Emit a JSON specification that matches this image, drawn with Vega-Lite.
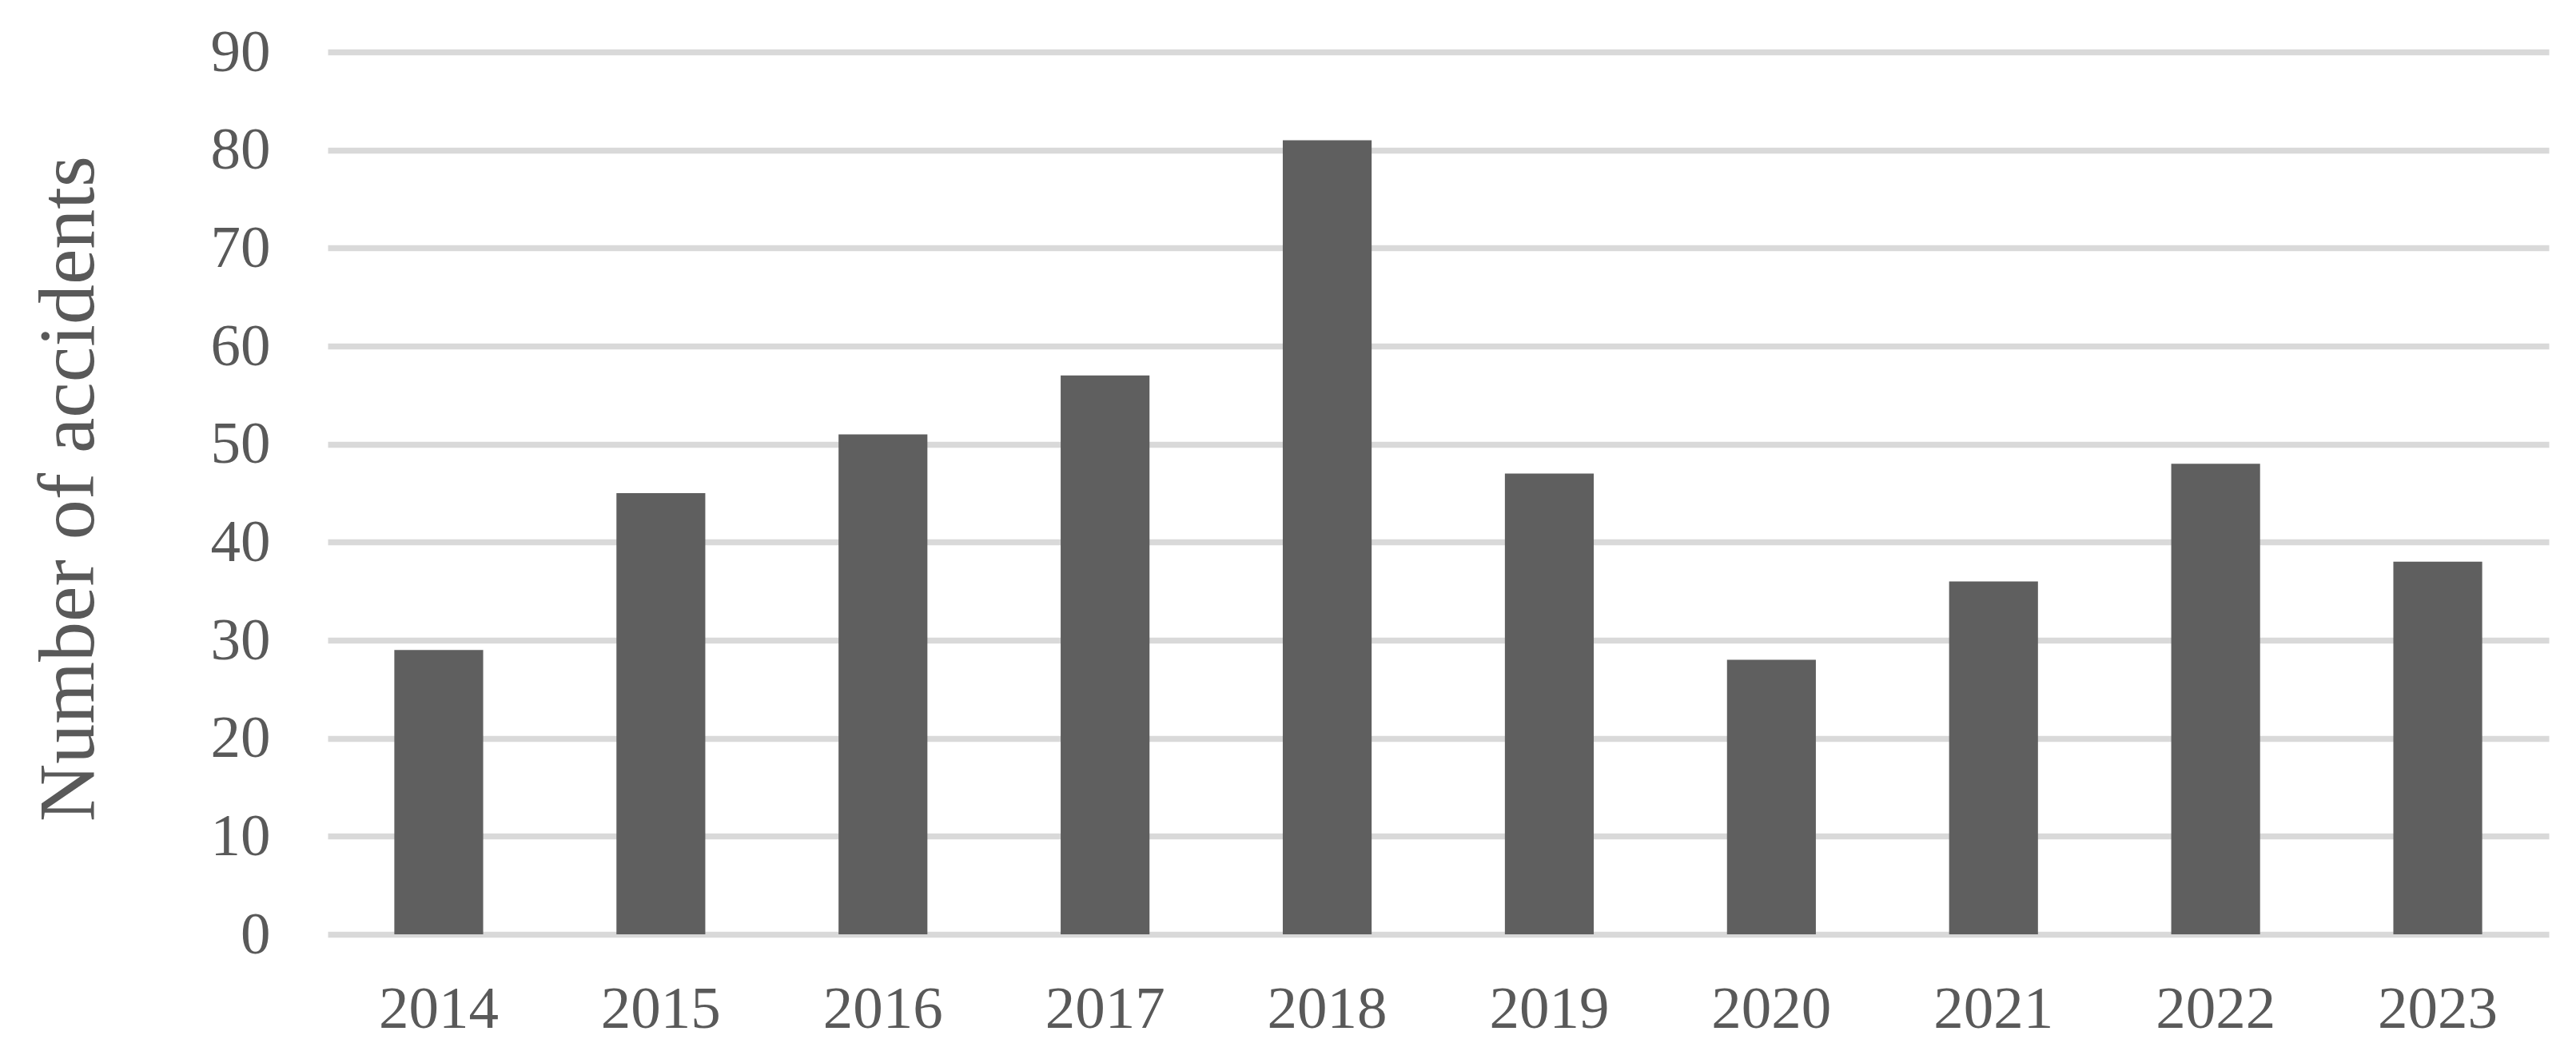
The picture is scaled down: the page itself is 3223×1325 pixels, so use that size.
{
  "$schema": "https://vega.github.io/schema/vega-lite/v6.json",
  "width": 2779,
  "height": 1104,
  "autosize": {"type": "none"},
  "padding": {"left": 410, "top": 65, "right": 34, "bottom": 156},
  "background": "white",
  "config": {"view": {"stroke": null}},
  "data": {"values": [
    {"year": "2014", "accidents": 29},
    {"year": "2015", "accidents": 45},
    {"year": "2016", "accidents": 51},
    {"year": "2017", "accidents": 57},
    {"year": "2018", "accidents": 81},
    {"year": "2019", "accidents": 47},
    {"year": "2020", "accidents": 28},
    {"year": "2021", "accidents": 36},
    {"year": "2022", "accidents": 48},
    {"year": "2023", "accidents": 38}
  ]},
  "mark": {"type": "bar", "color": "#5f5f5f"},
  "encoding": {
    "x": {
      "field": "year", "type": "ordinal", "sort": null,
      "scale": {"paddingInner": 0.6, "paddingOuter": 0.3},
      "axis": {
        "title": null, "labelAngle": 0, "domain": false, "ticks": false,
        "labelFont": "Liberation Serif", "labelFontSize": 75, "labelColor": "#595959",
        "labelBaseline": "middle", "labelPadding": 93
      }
    },
    "y": {
      "field": "accidents", "type": "quantitative",
      "scale": {"domain": [0, 90]},
      "axis": {
        "values": [0, 10, 20, 30, 40, 50, 60, 70, 80, 90],
        "title": "Number of accidents",
        "titleFont": "Liberation Serif", "titleFontSize": 100, "titleFontWeight": "normal",
        "titleColor": "#595959", "titleAngle": -90, "titleX": -324, "titleY": 546,
        "titleAlign": "center", "titleBaseline": "middle",
        "domain": false, "ticks": false,
        "labelFont": "Liberation Serif", "labelFontSize": 75, "labelColor": "#595959",
        "labelPadding": 72, "labelBaseline": "middle",
        "grid": true, "gridColor": "#d9d9d9", "gridWidth": 7.5
      }
    }
  }
}
